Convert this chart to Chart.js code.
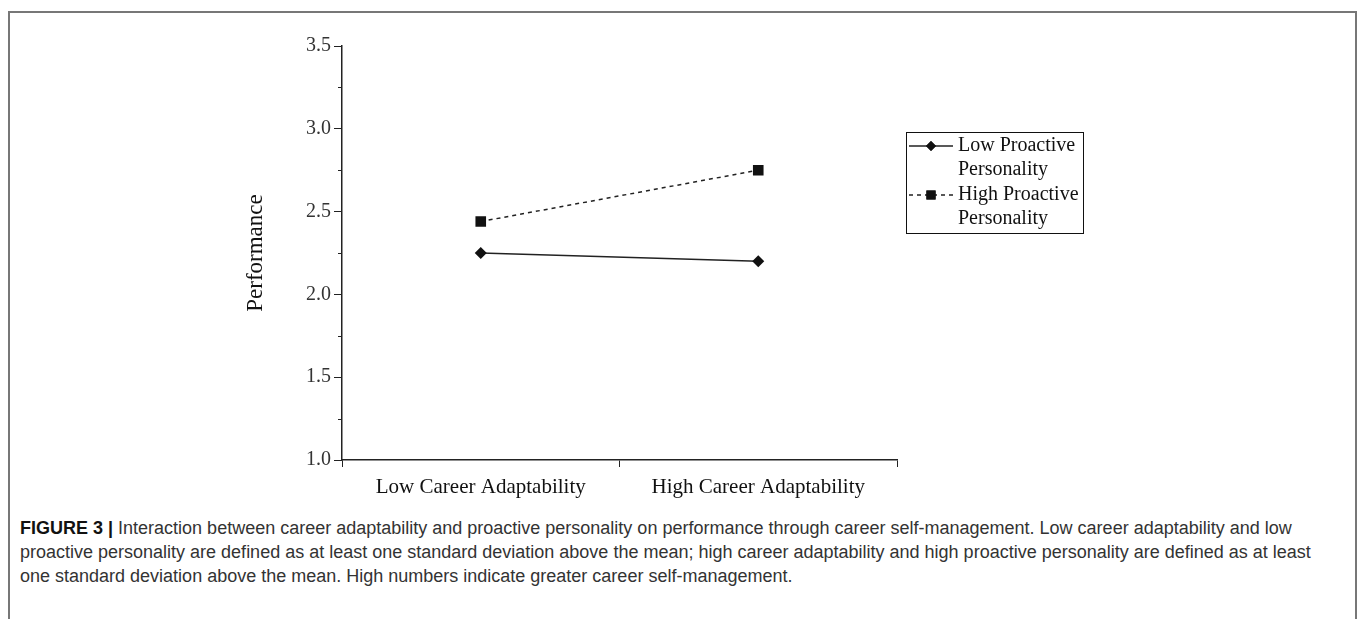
<!DOCTYPE html>
<html>
<head>
<meta charset="utf-8">
<script src="https://cdn.jsdelivr.net/npm/chart.js@4"></script>
<style>
    html, body { margin: 0; padding: 0; background: #fff; }
    #frame {
        position: absolute; left: 8px; top: 11px; width: 1345px; height: 620px;
        border-top: 2px solid #777; border-left: 2px solid #777; border-right: 2px solid #777;
    }
    #wrap { position: absolute; left: 0; top: 0; width: 1357px; height: 500px; }
    #caption {
        position: absolute; left: 20px; top: 516px; width: 1335px; white-space: nowrap;
        font-family: "Liberation Sans", Arial, sans-serif; font-size: 18px; line-height: 24px;
        color: #333;
    }
    #caption b { color: #111; }
</style>
</head>
<body>
<div id="frame"></div>
<div id="wrap"><canvas id="chart" width="1357" height="500"></canvas></div>
<div id="caption"><b>FIGURE 3 |</b> Interaction between career adaptability and proactive personality on performance through career self-management. Low career adaptability and low<br>proactive personality are defined as at least one standard deviation above the mean; high career adaptability and high proactive personality are defined as at least<br>one standard deviation above the mean. High numbers indicate greater career self-management.</div>
<script>
// Data
const categories = ['Low Career Adaptability', 'High Career Adaptability'];
const lowProactive = [2.25, 2.20];
const highProactive = [2.44, 2.75];
const seriesNames = [['Low Proactive', 'Personality'], ['High Proactive', 'Personality']];
const minorTicks = [1.25, 1.75, 2.25, 2.75, 3.25];

const serif = '"Liberation Serif", "Times New Roman", serif';

// minor ticks on the y axis + boxed legend with two-line labels
const extras = {
    id: 'extras',
    afterDraw(chart) {
        const ctx = chart.ctx;
        const y = chart.scales.y;
        ctx.save();
        ctx.strokeStyle = '#222';
        ctx.lineWidth = 1;
        minorTicks.forEach(v => {
            const py = Math.round(y.getPixelForValue(v)) + 0.5;
            ctx.beginPath();
            ctx.moveTo(y.right - 4, py);
            ctx.lineTo(y.right, py);
            ctx.stroke();
        });

        // legend
        const bx = 906.5, by = 132.5, bw = 177, bh = 101;
        ctx.beginPath();
        ctx.rect(bx - 1, by - 1, bw + 1.5, bh + 2);
        ctx.clip();
        ctx.strokeStyle = '#111';
        ctx.strokeRect(bx, by, bw, bh);
        ctx.font = '20px ' + serif;
        ctx.fillStyle = '#111';
        ctx.textBaseline = 'middle';
        chart.data.datasets.forEach((ds, i) => {
            const ly = 146 + i * 49;
            ctx.beginPath();
            ctx.setLineDash(ds.borderDash || []);
            ctx.lineWidth = ds.borderWidth;
            ctx.strokeStyle = ds.borderColor;
            ctx.moveTo(909, ly);
            ctx.lineTo(953, ly);
            ctx.stroke();
            ctx.setLineDash([]);
            Chart.helpers.drawPoint(ctx, {
                pointStyle: ds.pointStyle, radius: ds.pointRadius - 1, borderWidth: 0
            }, 931, ly);
            ctx.fillStyle = '#111';
            ctx.fill();
            seriesNames[i].forEach((t, k) => ctx.fillText(t, 958, ly + k * 24));
        });
        ctx.restore();
    }
};

new Chart(document.getElementById('chart').getContext('2d'), {
    type: 'line',
    data: {
        labels: categories,
        datasets: [
            {
                label: seriesNames[0].join(' '),
                data: lowProactive,
                borderColor: '#222',
                borderWidth: 1.5,
                pointStyle: 'rectRot',
                pointRadius: 6,
                pointBackgroundColor: '#111',
                pointBorderWidth: 0,
                tension: 0
            },
            {
                label: seriesNames[1].join(' '),
                data: highProactive,
                borderColor: '#222',
                borderWidth: 1.5,
                borderDash: [4, 4],
                pointStyle: 'rect',
                pointRadius: 7.5,
                pointBackgroundColor: '#111',
                pointBorderWidth: 0,
                tension: 0
            }
        ]
    },
    options: {
        responsive: false,
        animation: false,
        layout: { padding: { left: 240, right: 460, top: 46, bottom: 0 } },
        scales: {
            x: {
                type: 'category',
                offset: true,
                afterFit: s => { s.height = 40; },
                grid: {
                    offset: true,
                    drawOnChartArea: false,
                    drawTicks: true,
                    tickLength: 7,
                    color: '#222'
                },
                border: { display: true, color: '#222', width: 1.5 },
                ticks: {
                    color: '#111',
                    padding: 8,
                    maxRotation: 0,
                    font: { family: serif, size: 21 }
                }
            },
            y: {
                min: 1.0,
                max: 3.5,
                afterFit: s => { s.width = 102; },
                grid: {
                    drawOnChartArea: false,
                    drawTicks: true,
                    tickLength: 8,
                    color: '#222'
                },
                border: { display: true, color: '#222', width: 1.5 },
                ticks: {
                    stepSize: 0.5,
                    color: '#333',
                    padding: 3,
                    font: { family: serif, size: 20 },
                    callback: v => v.toFixed(1)
                },
                title: {
                    display: true,
                    text: 'Performance',
                    color: '#111',
                    padding: { top: 2, bottom: 0 },
                    font: { family: serif, size: 23 }
                }
            }
        },
        plugins: {
            legend: { display: false },
            tooltip: { enabled: false }
        }
    },
    plugins: [extras]
});
</script>
</body>
</html>
